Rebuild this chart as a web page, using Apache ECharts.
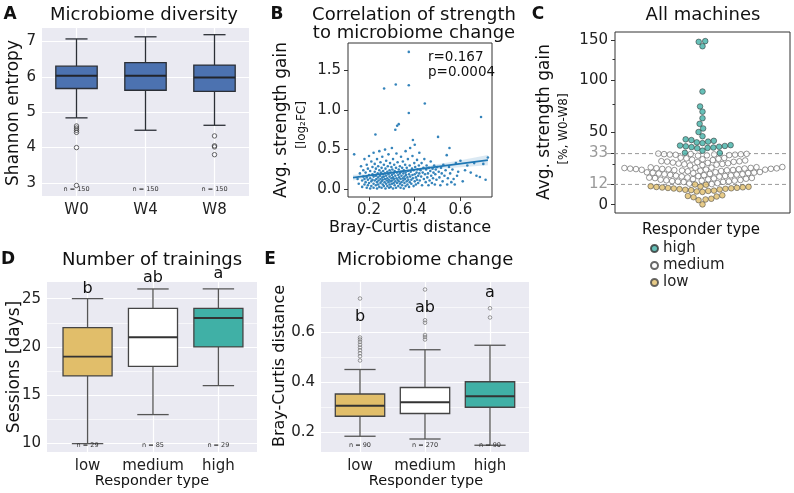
<!DOCTYPE html>
<html>
<head>
<meta charset="UTF-8">
<script src="https://cdn.jsdelivr.net/npm/echarts@6/dist/echarts.min.js"></script>
<style>
  html, body { margin: 0; background: #fff; }
  #main { width: 794px; height: 493px; }
</style>
</head>
<body>
<div id="main"></div>
<script>
// ---------- A: microbiome diversity (min, Q1, median, Q3, max) ----------
var weeks = ['W0', 'W4', 'W8'];
var boxA = [
  [4.84, 5.67, 6.03, 6.30, 7.07],
  [4.49, 5.62, 6.03, 6.40, 7.13],
  [4.63, 5.59, 5.98, 6.33, 7.19]
];
var outA = [[0, 4.61], [0, 4.55], [0, 4.49], [0, 4.43], [0, 4.0], [0, 2.93],
            [2, 4.33], [2, 4.05], [2, 4.02], [2, 3.80]];
var nA = [150, 150, 150];

// ---------- B: strength gain vs Bray-Curtis distance ----------
var scatterB = [
  [0.135,0.44],[0.15,0.13],[0.155,0.07],[0.16,0.2],[0.165,0.29],[0.17,0.11],[0.17,0.03],[0.175,0.16],[0.175,0.24],[0.18,0.06],[0.18,0.38],[0.18,0.13],
  [0.185,0.09],[0.185,0.21],[0.19,0.02],[0.19,0.15],[0.19,0.31],[0.195,0.12],[0.195,0.05],[0.195,0.26],[0.2,0.18],[0.2,0.08],[0.2,0.42],[0.205,0.01],
  [0.205,0.14],[0.205,0.23],[0.21,0.1],[0.21,0.35],[0.21,0.04],[0.215,0.19],[0.215,0.28],[0.215,0.12],[0.22,0.07],[0.22,0.16],[0.22,0.46],[0.22,0.02],
  [0.225,0.22],[0.225,0.11],[0.225,0.32],[0.228,0.69],[0.23,0.05],[0.23,0.17],[0.23,0.26],[0.232,0.13],[0.235,0.01],[0.235,0.09],[0.235,0.38],[0.238,0.2],
  [0.24,0.15],[0.24,0.06],[0.24,0.29],[0.242,0.11],[0.245,0.03],[0.245,0.24],[0.245,0.48],[0.248,0.17],[0.25,0.08],[0.25,0.13],[0.25,0.34],[0.252,0.21],
  [0.255,0.02],[0.255,0.1],[0.255,0.27],[0.258,0.15],[0.258,0.41],[0.26,0.06],[0.26,0.19],[0.26,0.12],
  [0.262,0.23],[0.265,0.04],[0.265,0.16],[0.265,0.31],[0.266,1.27],[0.268,0.09],[0.27,0.2],[0.27,0.13],[0.27,0.5],[0.272,0.01],[0.272,0.26],[0.275,0.07],
  [0.275,0.17],[0.275,0.36],[0.278,0.11],[0.28,0.22],[0.28,0.04],[0.28,0.14],[0.282,0.29],[0.285,0.09],[0.285,0.19],[0.285,0.44],[0.288,0.02],[0.288,0.12],
  [0.29,0.24],[0.29,0.06],[0.29,0.16],[0.292,0.33],[0.295,0.1],[0.295,0.21],[0.295,0.03],[0.298,0.14],[0.298,0.28],[0.3,0.07],[0.3,0.18],[0.3,0.52],
  [0.302,0.11],[0.302,0.25],[0.305,0.01],[0.305,0.15],[0.305,0.38],[0.308,0.08],[0.308,0.2],[0.31,0.13],[0.31,0.31],[0.312,0.05],[0.312,0.23],[0.315,0.17],
  [0.315,0.1],[0.315,0.75],[0.317,1.32],[0.318,0.27],[0.318,0.02],[0.32,0.14],[0.32,0.45],[0.322,0.08],[0.322,0.21],[0.323,0.8],[0.325,0.12],[0.325,0.34],
  [0.328,0.04],[0.328,0.18],[0.33,0.25],[0.33,0.1],[0.33,0.82],[0.332,0.15],[0.335,0.07],[0.335,0.29],[0.335,0.2],[0.338,0.02],[0.338,0.13],[0.34,0.41],[0.34,0.22],
  [0.342,0.09],[0.342,0.17],[0.345,0.27],[0.345,0.05],[0.348,0.14],[0.348,0.35],[0.35,0.11],[0.35,0.2],[0.352,0.01],[0.352,0.24],[0.355,0.16],[0.355,0.08],
  [0.358,0.31],[0.358,0.13],[0.36,0.04],[0.36,0.21],[0.36,0.48],[0.362,0.18],[0.365,0.1],[0.365,0.27],[0.368,0.15],[0.368,0.06],[0.37,0.23],[0.37,0.38],
  [0.372,0.12],[0.374,1.73],[0.374,1.31],[0.374,0.96],[0.375,0.19],[0.375,0.03],[0.378,0.3],[0.378,0.09],[0.38,0.52],[0.38,0.16],
  [0.382,0.22],[0.385,0.12],[0.385,0.07],[0.388,0.26],[0.39,0.18],[0.39,0.42],[0.392,0.62],[0.392,0.14],[0.395,0.04],[0.395,0.24],[0.398,0.33],[0.4,0.1],
  [0.4,0.19],[0.4,0.56],[0.402,0.28],[0.405,0.15],[0.405,0.06],[0.408,0.21],[0.41,0.37],[0.41,0.12],[0.412,0.25],[0.415,0.17],[0.415,0.08],[0.418,0.3],[0.42,0.2],[0.42,0.46],
  [0.422,0.11],[0.425,0.24],[0.428,0.16],[0.43,0.33],[0.432,0.05],[0.435,0.21],[0.438,0.27],[0.44,0.13],[0.442,0.38],[0.444,1.08],[0.445,0.19],[0.448,0.09],
  [0.45,0.25],[0.452,0.3],[0.455,0.15],[0.458,0.2],[0.46,0.05],[0.462,0.27],[0.465,0.11],[0.468,0.23],[0.47,0.35],[0.472,0.17],[0.475,0.08],[0.478,0.26],
  [0.48,0.14],[0.482,0.21],[0.485,0.3],[0.488,0.06],[0.49,0.19],[0.492,0.25],[0.495,0.12],[0.498,0.28],
  [0.502,0.66],[0.505,0.22],[0.508,0.15],[0.512,0.05],[0.515,0.27],[0.518,0.2],[0.522,0.1],[0.525,0.31],[0.53,0.17],[0.535,0.24],[0.54,0.43],[0.542,0.06],
  [0.545,0.14],[0.55,0.28],[0.552,0.52],[0.555,0.2],[0.56,0.09],[0.565,0.25],[0.57,0.13],[0.575,0.06],[0.58,0.33],[0.585,0.17],[0.59,0.22],
  [0.6,0.36],[0.61,0.1],[0.62,0.24],[0.63,0.3],[0.645,0.21],[0.66,0.33],[0.67,0.17],[0.685,0.155],[0.69,0.91],[0.7,0.32],[0.71,0.12],[0.72,0.4]
];
var fitB = [[0.13, 0.147], [0.72, 0.367]];
var bandX  = [0.13, 0.2, 0.3, 0.4, 0.5, 0.6, 0.72];
var bandLo = [0.112, 0.153, 0.197, 0.231, 0.255, 0.277, 0.302];
var bandHi = [0.182, 0.193, 0.223, 0.263, 0.315, 0.367, 0.432];

// ---------- C: strength gain (%) per responder type ----------
var gainHigh = [149, 148, 142, 88, 73, 68, 62, 57, 53, 50, 46.5,
                44.0, 43.4, 42.8, 42.2, 41.6, 41.0,
                39.4, 39.1, 38.8, 38.5, 38.2, 37.9, 37.6, 37.3, 37.0,
                35.2, 33.6, 33.4];
var gainMedium = [12.2, 12.5, 12.8,
                  13.5, 13.6, 13.8, 13.9, 14.1, 14.3, 14.4, 14.6, 14.8, 15.0, 15.2, 15.4, 15.6, 15.8, 16.0, 16.1, 16.3, 16.4,
                  17.0, 17.1, 17.3, 17.4, 17.6, 17.8, 17.9, 18.1, 18.3, 18.5, 18.6, 18.8, 19.0, 19.2, 19.3, 19.5, 19.6, 19.8, 19.9, 20.0,
                  20.5, 20.7, 20.9, 21.0, 21.2, 21.3, 21.4, 21.5, 21.6, 21.7, 21.8, 21.9, 22.0,
                  22.1, 22.2, 22.3, 22.4, 22.5, 22.6, 22.7, 22.8, 22.9, 23.0, 23.2, 23.3, 23.4,
                  24.5, 24.8, 25.0, 25.3, 25.5, 25.8, 26.0, 26.3, 26.5, 26.8, 27.0, 27.2, 27.4, 27.5,
                  28.0, 28.3, 28.6, 28.9, 29.2, 29.5, 29.8, 30.0,
                  31.5, 31.7, 31.9, 32.1, 32.2, 32.3, 32.4, 32.5, 32.6, 32.7, 32.8, 33.0];
var gainLow = [0.2, 2.6, 3.0, 3.4, 4.3, 4.7, 5.0, 5.4, 7.4, 7.7, 8.0, 8.2, 8.5, 8.7, 8.9,
               9.1, 9.3, 9.5, 9.6, 9.8, 9.9, 10.1, 10.2, 10.4, 10.5, 10.7, 10.9, 11.8, 11.95];
var gainTicks = [0, 12, 33, 50, 100, 150];
var gainMinor = [25, 75, 125];
var gainCuts = [12, 33];

// ---------- D: number of trainings ----------
var responders = ['low', 'medium', 'high'];
var boxD = [[10, 17, 19, 22, 25], [13, 18, 21, 24, 26], [16, 20, 23, 24, 26]];
var nD = [29, 85, 29];
var lettersD = ['b', 'ab', 'a'];
var letterYD = [26.0, 27.1, 27.6];

// ---------- E: microbiome change ----------
var boxE = [
  [0.183, 0.263, 0.305, 0.352, 0.450],
  [0.172, 0.274, 0.319, 0.378, 0.529],
  [0.147, 0.299, 0.343, 0.401, 0.547]
];
var outE = [[0, 0.486], [0, 0.503], [0, 0.515], [0, 0.527], [0, 0.538], [0, 0.549], [0, 0.560], [0, 0.570], [0, 0.578], [0, 0.734],
            [1, 0.570], [1, 0.580], [1, 0.588], [1, 0.637], [1, 0.647], [1, 0.770],
            [2, 0.658], [2, 0.695]];
var nE = [90, 270, 90];
var lettersE = ['b', 'ab', 'a'];
var letterYE = [0.659, 0.697, 0.756];

// ---------------------------------------------------------------
var FONT = 'DejaVu Sans';
var gold = '#E1BE6A', teal = '#40B0A6', blue = '#4c72b0';
var bg = '#EAEAF2';

function tr(v) { return Math.log(1 + v / 100); }   // log-ratio scale of panel C

// panel C geometry, used by the swarm layout
var gridC = { left: 615, top: 32, width: 175, height: 181 };
var tMin = tr(-4.5), tMax = tr(162);
var pxPerT = gridC.height / (tMax - tMin);
var dot = 5.8;

function beeswarm(items) {
  var pts = items.map(function (d) { return { v: d.v, g: d.g, y: tr(d.v) * pxPerT, x: 0 }; });
  pts.sort(function (a, b) { return a.y - b.y; });
  var placed = [];
  pts.forEach(function (p) {
    var near = placed.filter(function (q) { return Math.abs(q.y - p.y) < dot; });
    var cands = [0];
    near.forEach(function (q) {
      var dx = Math.sqrt(dot * dot - (q.y - p.y) * (q.y - p.y));
      cands.push(q.x - dx, q.x + dx);
    });
    cands.sort(function (a, b) { return Math.abs(a) - Math.abs(b); });
    for (var k = 0; k < cands.length; k++) {
      var c = cands[k];
      var ok = near.every(function (q) {
        return (q.x - c) * (q.x - c) + (q.y - p.y) * (q.y - p.y) >= dot * dot - 1e-6;
      });
      if (ok) { p.x = c; break; }
    }
    placed.push(p);
  });
  return placed;
}

var swarm = beeswarm([].concat(
  gainHigh.map(function (v) { return { v: v, g: 'high' }; }),
  gainMedium.map(function (v) { return { v: v, g: 'medium' }; }),
  gainLow.map(function (v) { return { v: v, g: 'low' }; })
));
function swarmOf(g) {
  return swarm.filter(function (p) { return p.g === g; }).map(function (p) { return [p.x, tr(p.v)]; });
}

function boxSeries(xi, yi, data, opt) {
  return {
    type: 'custom', xAxisIndex: xi, yAxisIndex: yi, z: 3,
    data: data.map(function (b, i) { return [i].concat(b); }),
    encode: { x: 0, y: [1, 2, 3, 4, 5] },
    renderItem: function (params, api) {
      var i = api.value(0);
      var c = function (v) { return api.coord([i, v]); };
      var lo = c(api.value(1)), q1 = c(api.value(2)), md = c(api.value(3)), q3 = c(api.value(4)), hi = c(api.value(5));
      var hw = api.size([opt.box, 0])[0] / 2, hc = api.size([opt.cap, 0])[0] / 2;
      var x = lo[0], cs = params.coordSys;
      var ln = { stroke: opt.line, lineWidth: opt.lw };
      var kids = [
        { type: 'line', shape: { x1: x, y1: q1[1], x2: x, y2: lo[1] }, style: ln },
        { type: 'line', shape: { x1: x, y1: q3[1], x2: x, y2: hi[1] }, style: ln },
        { type: 'line', shape: { x1: x - hc, y1: lo[1], x2: x + hc, y2: lo[1] }, style: ln },
        { type: 'line', shape: { x1: x - hc, y1: hi[1], x2: x + hc, y2: hi[1] }, style: ln },
        { type: 'rect', shape: { x: x - hw, y: q3[1], width: 2 * hw, height: q1[1] - q3[1] },
          style: { fill: opt.fills[params.dataIndex], stroke: opt.edge, lineWidth: opt.lw } },
        { type: 'line', shape: { x1: x - hw, y1: md[1], x2: x + hw, y2: md[1] }, style: { stroke: opt.median, lineWidth: opt.lw + 0.6 } },
        { type: 'text', x: x, y: cs.y + cs.height - 3,
          style: { text: 'n = ' + opt.n[params.dataIndex], textAlign: 'center', textVerticalAlign: 'bottom',
                   align: 'center', verticalAlign: 'bottom', fontSize: 6.5, fontFamily: FONT, fill: '#333' } }
      ];
      if (opt.letters) {
        var lp = api.coord([i, opt.letterY[params.dataIndex]]);
        kids.push({ type: 'text', x: x, y: lp[1],
          style: { text: opt.letters[params.dataIndex], textAlign: 'center', textVerticalAlign: 'middle',
                   align: 'center', verticalAlign: 'middle', fontSize: 16, fontFamily: FONT, fill: '#111' } });
      }
      return { type: 'group', children: kids };
    }
  };
}

var myChart = echarts.init(document.getElementById('main'));

var darkLabel = { fontSize: 15, color: '#222', fontFamily: FONT };
function catX(grid, min, max, names) {
  return {
    gridIndex: grid, type: 'value', min: min, max: max,
    axisLine: { show: false },
    axisTick: { show: false, customValues: [0, 1, 2] },
    axisLabel: Object.assign({ customValues: [0, 1, 2], margin: 7,
                               formatter: function (v) { return names[Math.round(v)]; } }, darkLabel),
    splitLine: { show: true, lineStyle: { color: '#fff', width: 1.2 } }
  };
}
function darkY(grid, min, max, ticks, fmt) {
  return {
    gridIndex: grid, type: 'value', min: min, max: max,
    axisLine: { show: false },
    axisTick: { show: false, customValues: ticks },
    axisLabel: Object.assign({ customValues: ticks, margin: 6, formatter: fmt }, darkLabel),
    splitLine: { show: true, lineStyle: { color: '#fff', width: 1.2 } }
  };
}
function minorY(grid, min, max, ticks) {
  return {
    gridIndex: grid, type: 'value', min: min, max: max, position: 'left',
    axisLine: { show: false }, axisLabel: { show: false },
    axisTick: { show: false, customValues: ticks },
    splitLine: { show: true, lineStyle: { color: '#fff', width: 0.6 } }
  };
}

function txt(x, y, text, size, extra) {
  return {
    type: 'text', x: x, y: y, silent: true,
    style: Object.assign({ text: text, fontSize: size, fontFamily: FONT, fill: '#111',
                           textAlign: 'center', textVerticalAlign: 'middle' }, extra || {})
  };
}
function vtxt(x, y, text, size) {
  var t = txt(x, y, text, size);
  t.rotation = Math.PI / 2;
  return t;
}

var option = {
  animation: false,
  textStyle: { fontFamily: FONT },
  grid: [
    { left: 42, top: 28, width: 207, height: 168, show: true, backgroundColor: bg, borderWidth: 0 },
    { left: 348, top: 43, width: 144, height: 154, show: true, backgroundColor: '#fff', borderColor: '#333', borderWidth: 1 },
    { left: gridC.left, top: gridC.top, width: gridC.width, height: gridC.height, show: true, backgroundColor: '#fff', borderColor: '#333', borderWidth: 1 },
    { left: 47, top: 282, width: 210, height: 170, show: true, backgroundColor: bg, borderWidth: 0 },
    { left: 321, top: 282, width: 208, height: 170, show: true, backgroundColor: bg, borderWidth: 0 }
  ],
  xAxis: [
    catX(0, -0.5, 2.5, weeks),
    { gridIndex: 1, type: 'value', min: 0.108, max: 0.738,
      axisLine: { show: false, onZero: false },
      axisTick: { show: true, length: 4, customValues: [0.2, 0.4, 0.6], lineStyle: { color: '#333' } },
      axisLabel: Object.assign({ customValues: [0.2, 0.4, 0.6], margin: 6,
                                 formatter: function (v) { return v.toFixed(1); } }, darkLabel),
      splitLine: { show: false } },
    { gridIndex: 2, type: 'value', min: -gridC.width / 2, max: gridC.width / 2, show: false,
      axisLine: { onZero: false } },
    catX(3, -0.62, 2.59, responders),
    catX(4, -0.6, 2.6, responders)
  ],
  yAxis: [
    darkY(0, 2.632, 7.379, [3, 4, 5, 6, 7], function (v) { return String(Math.round(v)); }),
    { gridIndex: 1, type: 'value', min: -0.097, max: 1.842,
      axisLine: { show: false, onZero: false },
      axisTick: { show: true, length: 4, customValues: [0, 0.5, 1, 1.5], lineStyle: { color: '#333' } },
      axisLabel: Object.assign({ customValues: [0, 0.5, 1, 1.5], margin: 7,
                                 formatter: function (v) { return v.toFixed(1); } }, darkLabel),
      splitLine: { show: false } },
    { gridIndex: 2, type: 'value', min: tMin, max: tMax, position: 'left',
      axisLine: { show: false, onZero: false },
      axisTick: { show: true, length: 4, customValues: gainTicks.map(tr), lineStyle: { color: '#333' } },
      axisLabel: { customValues: gainTicks.map(tr), margin: 7, fontSize: 15, fontFamily: FONT,
                   formatter: function (v) { return String(Math.round(100 * (Math.exp(v) - 1))); },
                   color: function (v) {
                     var p = Math.round(100 * (Math.exp(Number(v)) - 1));
                     return gainCuts.indexOf(p) >= 0 ? '#999' : '#222';
                   } },
      splitLine: { show: false } },
    { gridIndex: 2, type: 'value', min: tMin, max: tMax, position: 'left', offset: 0,
      axisLine: { show: false, onZero: false }, axisLabel: { show: false },
      axisTick: { show: true, length: 2.5, customValues: gainMinor.map(tr), lineStyle: { color: '#333' } },
      splitLine: { show: false } },
    darkY(3, 9.13, 26.72, [10, 15, 20, 25], function (v) { return String(Math.round(v)); }),
    minorY(3, 9.13, 26.72, [12.5, 17.5, 22.5]),
    darkY(4, 0.12, 0.8, [0.2, 0.4, 0.6], function (v) { return v.toFixed(1); }),
    minorY(4, 0.12, 0.8, [0.3, 0.5, 0.7])
  ],
  legend: {
    data: ['high', 'medium', 'low'], orient: 'vertical', left: 650, top: 241,
    itemWidth: 7, itemHeight: 7, itemGap: 2, icon: 'circle', padding: 0,
    textStyle: { fontSize: 15, lineHeight: 15, color: '#222', fontFamily: FONT }
  },
  graphic: [
    txt(10, 15, 'A', 17, { fontWeight: 'bold' }),
    txt(277, 15, 'B', 17, { fontWeight: 'bold' }),
    txt(538, 15, 'C', 17, { fontWeight: 'bold' }),
    txt(8, 260, 'D', 17, { fontWeight: 'bold' }),
    txt(270, 260, 'E', 17, { fontWeight: 'bold' }),
    txt(144, 15, 'Microbiome diversity', 18),
    txt(414, 15, 'Correlation of strength', 18),
    txt(414, 33, 'to microbiome change', 18),
    txt(703, 15, 'All machines', 18),
    txt(152, 260, 'Number of trainings', 18),
    txt(425, 260, 'Microbiome change', 18),
    vtxt(14, 113, 'Shannon entropy', 17),
    vtxt(282, 120, 'Avg. strength gain', 17),
    vtxt(302, 125, '[log\u2082FC]', 12),
    vtxt(545, 122, 'Avg. strength gain', 17),
    vtxt(563.5, 129, '[%, W0-W8]', 12),
    vtxt(15, 367, 'Sessions [days]', 17),
    vtxt(280, 366, 'Bray-Curtis distance', 16),
    txt(410, 228, 'Bray-Curtis distance', 16),
    txt(152, 481, 'Responder type', 14.5),
    txt(426, 481, 'Responder type', 14.5),
    txt(701, 230, 'Responder type', 15),
    txt(428, 57, 'r=0.167', 13.5, { textAlign: 'left' }),
    txt(428, 72, 'p=0.0004', 13.5, { textAlign: 'left' })
  ],
  series: [
    // A
    boxSeries(0, 0, boxA, { box: 0.6, cap: 0.32, lw: 1.3, line: '#2b2f36', edge: '#2b2f36', median: '#22252b',
                            fills: [blue, blue, blue], n: nA }),
    { type: 'scatter', xAxisIndex: 0, yAxisIndex: 0, data: outA, symbolSize: 4.5, z: 4,
      itemStyle: { color: 'rgba(0,0,0,0)', borderColor: '#333', borderWidth: 0.9 } },
    // B
    { type: 'custom', xAxisIndex: 1, yAxisIndex: 1, z: 1,
      data: bandX.map(function (x, i) { return [x, bandLo[i], bandHi[i]]; }),
      encode: { x: 0, y: [1, 2] },
      renderItem: function (params, api) {
        if (params.dataIndex !== 0) return;
        var up = [], dn = [];
        for (var i = 0; i < bandX.length; i++) {
          up.push(api.coord([bandX[i], bandHi[i]]));
          dn.unshift(api.coord([bandX[i], bandLo[i]]));
        }
        return { type: 'polygon', shape: { points: up.concat(dn) }, style: { fill: 'rgba(31,119,180,0.16)' } };
      } },
    { type: 'scatter', xAxisIndex: 1, yAxisIndex: 1, data: scatterB, symbolSize: 2.6, z: 2,
      itemStyle: { color: '#1f77b4', opacity: 0.9 } },
    { type: 'line', xAxisIndex: 1, yAxisIndex: 1, data: fitB, showSymbol: false, z: 3,
      lineStyle: { color: '#1f77b4', width: 1.6 } },
    // C
    { type: 'custom', xAxisIndex: 2, yAxisIndex: 2, z: 1, silent: true,
      data: gainCuts.map(function (v) { return [0, tr(v)]; }),
      encode: { x: 0, y: 1 },
      renderItem: function (params, api) {
        var cs = params.coordSys, y = api.coord([0, api.value(1)])[1];
        return { type: 'line', shape: { x1: cs.x - 8, y1: y, x2: cs.x + cs.width, y2: y },
                 style: { stroke: '#999', lineWidth: 1, lineDash: [4, 3] } };
      } },
    { name: 'high', type: 'scatter', xAxisIndex: 2, yAxisIndex: 2, data: swarmOf('high'), symbolSize: 5.6, z: 3,
      itemStyle: { color: teal, borderColor: '#333', borderWidth: 0.7 } },
    { name: 'medium', type: 'scatter', xAxisIndex: 2, yAxisIndex: 2, data: swarmOf('medium'), symbolSize: 5.6, z: 3,
      itemStyle: { color: '#fff', borderColor: '#444', borderWidth: 0.7 } },
    { name: 'low', type: 'scatter', xAxisIndex: 2, yAxisIndex: 2, data: swarmOf('low'), symbolSize: 5.6, z: 3,
      itemStyle: { color: gold, borderColor: '#444', borderWidth: 0.7 } },
    // D
    boxSeries(3, 4, boxD, { box: 0.75, cap: 0.48, lw: 1.3, line: '#555', edge: '#444', median: '#333',
                            fills: [gold, '#fff', teal], n: nD, letters: lettersD, letterY: letterYD }),
    // E
    boxSeries(4, 6, boxE, { box: 0.76, cap: 0.48, lw: 1.3, line: '#555', edge: '#444', median: '#333',
                            fills: [gold, '#fff', teal], n: nE, letters: lettersE, letterY: letterYE }),
    { type: 'scatter', xAxisIndex: 4, yAxisIndex: 6, data: outE, symbolSize: 3.6, z: 4,
      itemStyle: { color: 'rgba(0,0,0,0)', borderColor: '#666', borderWidth: 0.8 } }
  ]
};

myChart.setOption(option);
</script>
</body>
</html>
